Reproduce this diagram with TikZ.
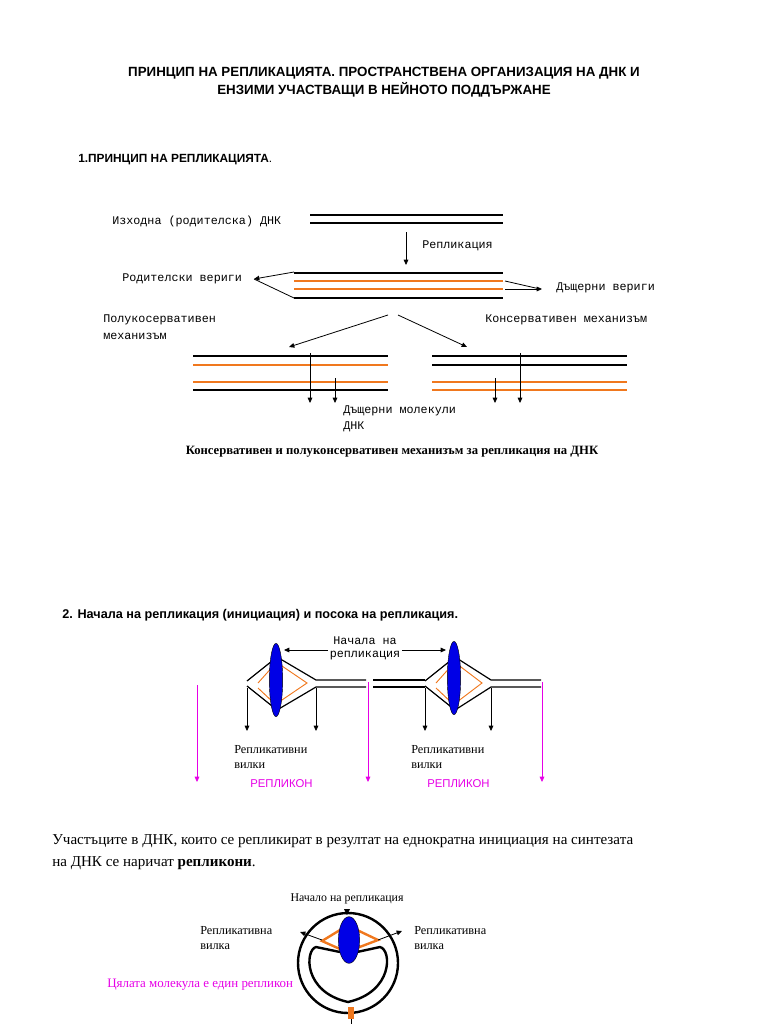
\documentclass[tikz,border=0pt]{standalone}
\usepackage{fontspec}
\setmainfont{Liberation Serif}
\setsansfont{Liberation Sans}
\setmonofont{Liberation Mono}
\definecolor{strand}{RGB}{240,120,30}
\definecolor{repl}{RGB}{230,0,230}
\definecolor{knot}{RGB}{0,0,230}
\usetikzlibrary{arrows.meta,shapes.geometric,calc}
\begin{document}
\begin{tikzpicture}[x=0.75pt,y=-0.75pt,>={Triangle[length=4pt,width=3.5pt]}]
	\tikzstyle{every node}=[inner sep=0pt];
	\tikzstyle{mono}=[font=\ttfamily\fontsize{8.8}{10}\selectfont,anchor=west];
	\tikzstyle{small}=[font=\fontsize{9.2}{10}\selectfont,anchor=west];
	\tikzstyle{old}=[draw=black,line width=1.3pt];
	\tikzstyle{new}=[draw=strand,line width=1.3pt];
	\tikzstyle{thin}=[draw=black,line width=0.6pt];
	\useasboundingbox (0,0) rectangle (768,1024);

	% headings
	\node (t1) at (384,73) {\sffamily\bfseries\fontsize{10}{12}\selectfont ПРИНЦИП НА РЕПЛИКАЦИЯТА. ПРОСТРАНСТВЕНА ОРГАНИЗАЦИЯ НА ДНК И};
	\node (t2) at (384,90) {\sffamily\bfseries\fontsize{10}{12}\selectfont ЕНЗИМИ УЧАСТВАЩИ В НЕЙНОТО ПОДДЪРЖАНЕ};
	\node[anchor=west] (h1) at (78,160) {\sffamily\fontsize{8.9}{10}\selectfont\textbf{1.ПРИНЦИП НА РЕПЛИКАЦИЯТА}.};

	% parent DNA and replication
	\node[mono] (par) at (112,221) {Изходна (родителска) ДНК};
	\draw[old,line width=1pt] (310,215) -- (503,215);
	\draw[old,line width=1pt] (310,223) -- (503,223);
	\coordinate (r0) at (406,232); \coordinate (r1) at (406,265);
	\draw[thin,->] (r0) -- (r1);
	\node[mono] (rep) at (422,246) {Репликация};
	\draw[old,line width=1pt] (294,273) -- (503,273);
	\draw[new] (294,281) -- (503,281);
	\draw[new] (294,289) -- (503,289);
	\draw[old,line width=1.8pt] (294,298) -- (503,298);
	\node[mono] (pv) at (122,279) {Родителски вериги};
	\coordinate (p1) at (294,272); \coordinate (p2) at (294,298);
	\draw[thin,->] (p1) -- (254,279);
	\draw[thin] (p2) -- (254,279);
	\node[mono] (dv) at (556,288) {Дъщерни вериги};
	\coordinate (d1) at (505,281); \coordinate (d2) at (505,289);
	\draw[thin] (d1) -- (540,289);
	\draw[thin,->] (d2) -- (542,289);

	% two mechanisms
	\node[mono] (semi) at (103,320) {Полукосервативен};
	\node[mono] (semi2) at (103,336) {механизъм};
	\node[mono] (cons) at (485,320) {Консервативен механизъм};
	\coordinate (s0) at (388,315); \coordinate (s1) at (289,347);
	\coordinate (c0) at (398,315); \coordinate (c1) at (467,347);
	\draw[thin,->] (s0) -- (s1);
	\draw[thin,->] (c0) -- (c1);
	\foreach \y/\st in {356/old,365/new,382/new,390/old}
		\draw[\st,line width=1pt] (193,\y) -- (388,\y);
	\foreach \y/\st in {356/old,365/old,382/new,390/new}
		\draw[\st,line width=1pt] (432,\y) -- (627,\y);
	\foreach \x/\y in {310/353,335/378,495/378,520/353}
		\draw[thin,->] (\x,\y) -- (\x,403);
	\node[mono] (dm) at (343,411) {Дъщерни молекули};
	\node[mono] (dm2) at (343,427) {ДНК};
	\node (cap) at (392,452) {\bfseries\fontsize{9.5}{10}\selectfont Консервативен и полуконсервативен механизъм за репликация на ДНК};

	% origins of replication
	\node[anchor=west] (h2) at (62,615) {\sffamily\bfseries\fontsize{9.5}{10}\selectfont 2. Начала на репликация (инициация) и посока на репликация.};
	\foreach \a/\b/\c/\e in {247/277/316/366,425/455/491/541} {
		\draw[thin,line width=0.9pt] (\a,681) -- (\b,657) -- (\c,680) -- (\e,680);
		\draw[thin,line width=0.9pt] (\a,686) -- (\b,710) -- (\c,687) -- (\e,687);
		\draw[strand,line width=0.7pt] (\a+11,683) -- (\b-2,664);
		\draw[strand,line width=0.7pt] (\b+2,664) -- (\c-9,683) -- (\b+2,702);
		\draw[strand,line width=0.7pt] (\a+11,688) -- (\b-2,704);
		\draw[thin,->] (\a,688) -- (\a,731);
		\draw[thin,->] (\c,688) -- (\c,731);
	}
	\draw[thin,line width=0.9pt] (373,680) -- (425,680);
	\draw[thin,line width=0.9pt] (373,687) -- (425,687);
	\node[ellipse,draw=black,fill=knot,line width=0.3pt,minimum width=10pt,minimum height=55pt] (o1) at (276,680) {};
	\node[ellipse,draw=black,fill=knot,line width=0.3pt,minimum width=10pt,minimum height=55pt] (o2) at (454,678) {};
	\coordinate (a1) at (284,650); \coordinate (a2) at (446,650);
	\draw[thin,<->] (a1) -- (a2);
	\node[font=\ttfamily\fontsize{8.8}{10}\selectfont,fill=white,inner sep=1pt] (on) at (365,641) {Начала на};
	\node[font=\ttfamily\fontsize{8.8}{10}\selectfont,fill=white,inner sep=1pt] (on2) at (365,656) {репликация};
	\foreach \x/\y in {197/685,368/682,542/682}
		\draw[repl,line width=0.6pt,->] (\x,\y) -- (\x,782);
	\foreach \x in {234,411} {
		\node[small] at (\x,750) {Репликативни};
		\node[small] at (\x,766) {вилки};
		\node[anchor=west,text=repl,font=\sffamily\fontsize{8.5}{9}\selectfont] at (\x+16,784) {РЕПЛИКОН};
	}

	% replicons
	\node[anchor=west,font=\fontsize{11.3}{12}\selectfont] (p1t) at (52,841) {Участъците в ДНК, които се репликират в резултат на еднократна инициация на синтезата};
	\node[anchor=west,font=\fontsize{11.3}{12}\selectfont] (p2t) at (52,863) {на ДНК се наричат \textbf{репликони}.};

	% circular molecule
	\draw[line width=1.8pt] (348,963) circle [radius=50];
	\draw[line width=1.8pt] (340,952) -- (316,947) .. controls (305,950) and (303,992) .. (348,1002) .. controls (393,992) and (392,950) .. (380,947) -- (357,952);
	\draw[strand,line width=1.8pt] (340,930) -- (322,941) -- (340,949);
	\draw[strand,line width=1.8pt] (357,930) -- (378,940) -- (357,948);
	\node[ellipse,draw=black,fill=knot,line width=0.3pt,minimum width=16pt,minimum height=35pt] (ori) at (349,940) {};
	\node[fill=strand,minimum width=4.5pt,minimum height=9pt] (ter) at (351,1013) {};
	\draw[line width=0.5pt] (ter.south) -- (351,1024);
	\node[font=\fontsize{8.9}{9}\selectfont] (orl) at (347,899) {Начало на репликация};
	\fill (344,909) -- (350,909) -- (347,915) -- cycle;
	\node[small] (fl) at (200,931) {Репликативна};
	\node[small] (fl2) at (200,947) {вилка};
	\node[small] (fr) at (414,931) {Репликативна};
	\node[small] (fr2) at (414,947) {вилка};
	\draw[thin,->] (322,940) -- (300,932);
	\draw[thin,->] (378,940) -- (402,931);
	\node[anchor=west,text=repl,font=\fontsize{9.7}{10}\selectfont] (whole) at (107,985) {Цялата молекула е един репликон};
\end{tikzpicture}
\end{document}
